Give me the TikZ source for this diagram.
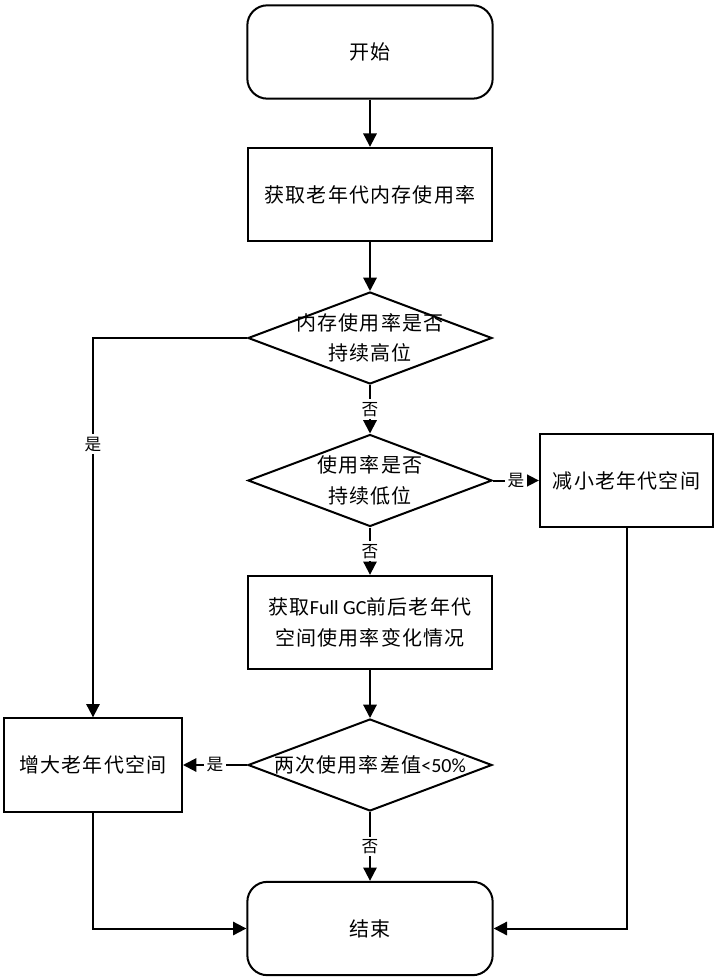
\documentclass[tikz,border=0pt]{standalone}
\usepackage{fontspec}
\setmainfont{Noto Sans CJK SC}[LetterSpace=6]
\newfontfamily\lat{Carlito}
\usetikzlibrary{shapes.geometric}
\usetikzlibrary{arrows.meta}

\begin{document}
\begin{tikzpicture}[x=0.75pt,y=-0.75pt,
    line width=1.5pt,
    >={Triangle[length=10pt,width=10pt]},
    term/.style={draw,rounded corners=15pt,minimum width=184pt,minimum height=70pt,
      inner sep=0pt,align=center,font=\fontsize{15pt}{23pt}\selectfont},
    proc/.style={draw,minimum width=183pt,minimum height=70pt,
      inner sep=0pt,align=center,font=\fontsize{15pt}{23pt}\selectfont},
    dec/.style={draw,diamond,minimum width=183pt,minimum height=69pt,inner sep=0pt},
    dectext/.style={align=center,inner sep=0pt,font=\fontsize{15pt}{23pt}\selectfont},
    tag/.style={fill=white,inner sep=2pt,font=\fontsize{12.5pt}{14pt}\selectfont}]
  \useasboundingbox (0,0) rectangle (718,980);

  % main column
  \node[term] (start) at (370,52) {开始};
  \node[proc] (read) at (370,194.5) {获取老年代内存使用率};
  \node[dec,label={[dectext]center:内存使用率是否\\持续高位}] (high) at (370,338) {};
  \node[dec,label={[dectext]center:使用率是否\\持续低位}] (low) at (370,480.5) {};
  \node[proc] (fullgc) at (370,622.5) {获取{\lat Full GC}前后老年代\\空间使用率变化情况};
  \node[dec,label={[dectext]center:两次使用率差值{\lat <50\%}}] (diff) at (370,765) {};
  \node[term] (end) at (370,928.5) {结束};

  % side boxes
  \node[proc,minimum width=130pt] (shrink) at (626.5,480.5) {减小老年代空间};
  \node[proc,minimum width=133.5pt] (grow) at (93,765) {增大老年代空间};

  \draw[->] (start) -- (read);
  \draw[->] (read) -- (high);
  \draw[->] (high) -- node[tag] {否} (low);
  \draw[->] (low) -- node[tag] {是} (shrink);
  \draw[->] (low) -- node[tag] {否} (fullgc);
  \draw[->] (fullgc) -- (diff);
  \draw[->] (diff) -- node[tag] {是} (grow);
  \draw[->] (diff) -- node[tag] {否} (end);
  \draw[->] (high.west) -| node[tag,pos=0.64] {是} (grow.north);
  \draw[->] (grow.south) |- (end.west);
  \draw[->] (shrink.south) |- (end.east);
\end{tikzpicture}
\end{document}
